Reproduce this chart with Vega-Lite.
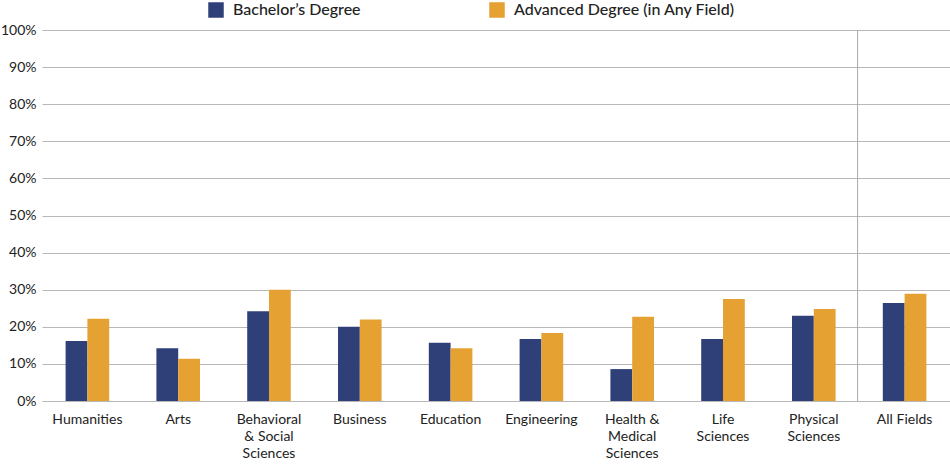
{
  "$schema": "https://vega.github.io/schema/vega-lite/v6.json",
  "autosize": {"type": "none"},
  "padding": {"left": 42, "top": 30, "right": 0, "bottom": 64},
  "width": 908,
  "height": 371,
  "background": "white",
  "config": {
    "font": "Lato",
    "view": {"stroke": null},
    "axis": {
      "labelColor": "#222222",
      "labelFont": "Lato",
      "labelFontSize": 14,
      "domain": false,
      "ticks": false,
      "title": null
    }
  },
  "layer": [
    {
      "data": {
        "values": [
          {"field": "Humanities", "degree": "Bachelor’s Degree", "share": 0.162},
          {"field": "Humanities", "degree": "Advanced Degree (in Any Field)", "share": 0.222},
          {"field": "Arts", "degree": "Bachelor’s Degree", "share": 0.142},
          {"field": "Arts", "degree": "Advanced Degree (in Any Field)", "share": 0.114},
          {"field": "Behavioral|& Social|Sciences", "degree": "Bachelor’s Degree", "share": 0.242},
          {"field": "Behavioral|& Social|Sciences", "degree": "Advanced Degree (in Any Field)", "share": 0.300},
          {"field": "Business", "degree": "Bachelor’s Degree", "share": 0.200},
          {"field": "Business", "degree": "Advanced Degree (in Any Field)", "share": 0.220},
          {"field": "Education", "degree": "Bachelor’s Degree", "share": 0.157},
          {"field": "Education", "degree": "Advanced Degree (in Any Field)", "share": 0.142},
          {"field": "Engineering", "degree": "Bachelor’s Degree", "share": 0.167},
          {"field": "Engineering", "degree": "Advanced Degree (in Any Field)", "share": 0.183},
          {"field": "Health &|Medical|Sciences", "degree": "Bachelor’s Degree", "share": 0.086},
          {"field": "Health &|Medical|Sciences", "degree": "Advanced Degree (in Any Field)", "share": 0.227},
          {"field": "Life|Sciences", "degree": "Bachelor’s Degree", "share": 0.167},
          {"field": "Life|Sciences", "degree": "Advanced Degree (in Any Field)", "share": 0.275},
          {"field": "Physical|Sciences", "degree": "Bachelor’s Degree", "share": 0.230},
          {"field": "Physical|Sciences", "degree": "Advanced Degree (in Any Field)", "share": 0.248},
          {"field": "All Fields", "degree": "Bachelor’s Degree", "share": 0.264},
          {"field": "All Fields", "degree": "Advanced Degree (in Any Field)", "share": 0.289}
        ]
      },
      "mark": {"type": "bar"},
      "encoding": {
        "x": {
          "field": "field",
          "type": "nominal",
          "sort": null,
          "scale": {"paddingInner": 0.52, "paddingOuter": 0.26},
          "axis": {
            "labelAngle": 0,
            "labelPadding": 11,
            "labelLineHeight": 17,
            "labelBaseline": "top",
            "labelExpr": "split(datum.label, '|')"
          }
        },
        "xOffset": {"field": "degree", "type": "nominal", "sort": null},
        "y": {
          "field": "share",
          "type": "quantitative",
          "scale": {"domain": [0, 1]},
          "axis": {
            "values": [0, 0.1, 0.2, 0.3, 0.4, 0.5, 0.6, 0.7, 0.8, 0.9, 1],
            "format": ".0%",
            "grid": true,
            "gridColor": "#b8b8b8",
            "gridWidth": 1,
            "labelPadding": 6
          }
        },
        "color": {
          "field": "degree",
          "type": "nominal",
          "sort": null,
          "scale": {"range": ["#2f3f78", "#e5a232"]},
          "legend": {
            "title": null,
            "orient": "none",
            "direction": "horizontal",
            "legendX": 166,
            "legendY": -28,
            "symbolType": "square",
            "symbolSize": 240,
            "symbolStrokeWidth": 0,
            "symbolOpacity": 1,
            "labelFont": "Lato",
            "labelFontSize": 16,
            "labelFontWeight": 500,
            "labelColor": "#222222",
            "labelOffset": 9,
            "labelLimit": 0,
            "columnPadding": 128
          }
        }
      }
    },
    {
      "data": {"values": [{"field": "All Fields"}]},
      "mark": {"type": "rule", "color": "#a8a8a8", "strokeWidth": 1, "xOffset": -47},
      "encoding": {
        "x": {"field": "field", "type": "nominal", "sort": null}
      }
    }
  ]
}
